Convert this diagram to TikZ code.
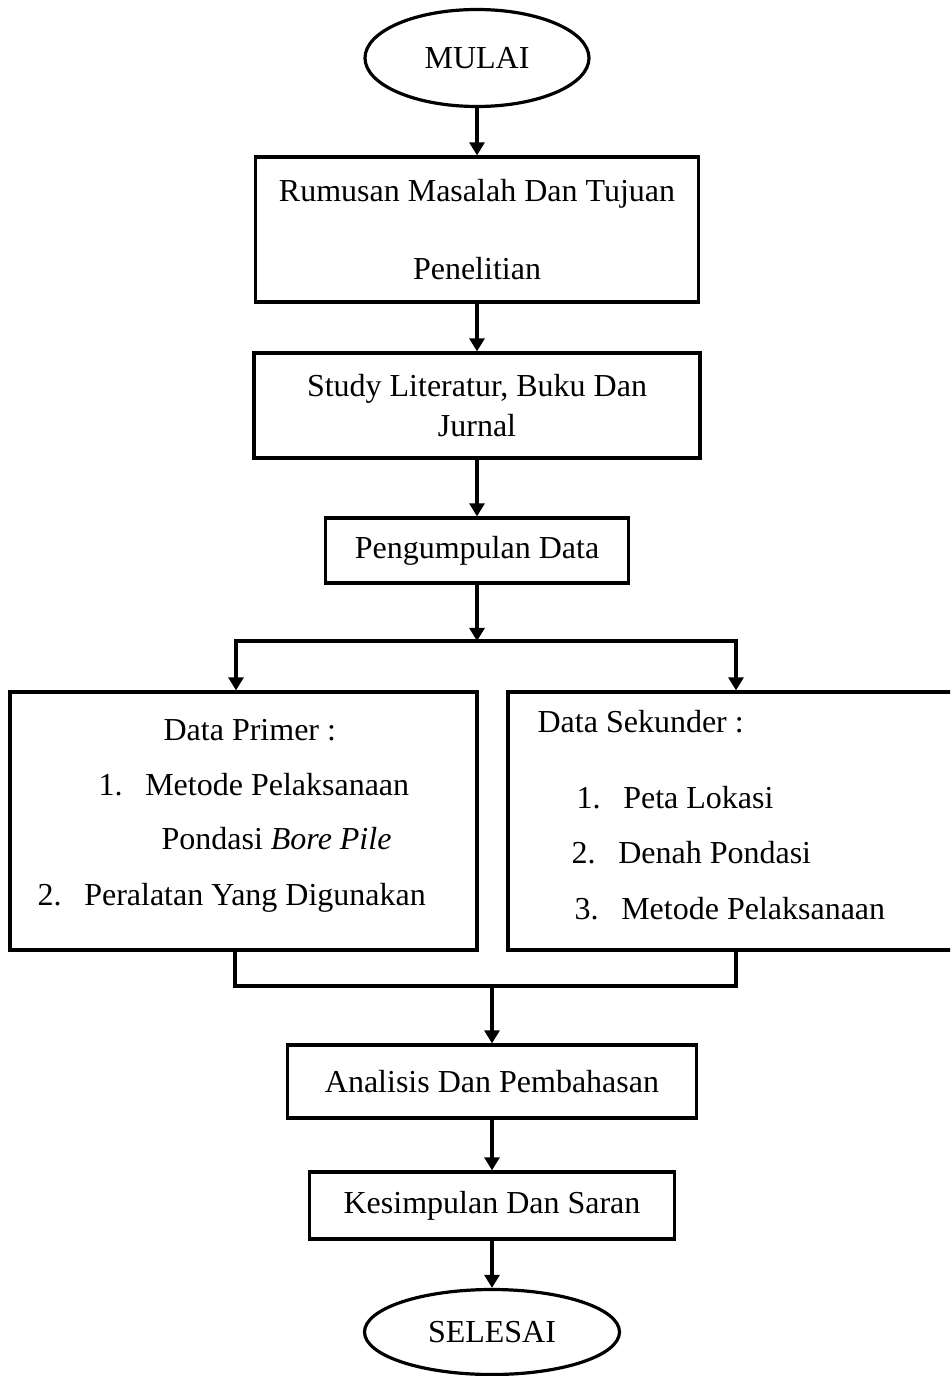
\documentclass[tikz,border=0pt]{standalone}
\usepackage{fontspec}
\setmainfont{Liberation Serif}
\usetikzlibrary{arrows.meta,shapes.geometric}

\begin{document}
\begin{tikzpicture}[line width=1.2pt, font=\fontsize{12}{15}\selectfont,
  box/.style={draw, rectangle, inner sep=0pt, align=center},
  terminal/.style={draw, ellipse, inner sep=0pt},
  arrow/.style={-{Triangle[length=4.9pt,width=5.6pt]}},
  txt/.style={anchor=base west, inner sep=0pt}]

\newcommand\X{0.375pt}
\newcommand\Y{-0.375pt}
\newcommand\NUM[1]{\makebox[17.5pt][l]{#1}}

\path[use as bounding box, clip] (0*\X, 0*\Y) rectangle (950*\X, 1376*\Y);

%% upper column

\node[terminal, minimum width=224*\X, minimum height=97*\X] (mulai) at (477*\X, 58*\Y) {MULAI};

\node[box, minimum width=443*\X, minimum height=145*\X] (rumusan) at (477*\X, 229.5*\Y)
  {Rumusan Masalah Dan Tujuan\\[14pt]Penelitian};

\node[box, minimum width=446*\X, minimum height=105*\X] (study) at (477*\X, 405.5*\Y)
  {Study Literatur, Buku Dan\\Jurnal};

\node[box, minimum width=303*\X, minimum height=65*\X] (kumpul) at (477*\X, 550.5*\Y) {Pengumpulan Data};

\draw[arrow] (mulai) -- (rumusan);
\draw[arrow] (rumusan) -- (study);
\draw[arrow] (study) -- (kumpul);

%% data boxes

\node[box, minimum width=467*\X, minimum height=258*\X] (primer) at (243.5*\X, 821*\Y) {};
\node[box, minimum width=456*\X, minimum height=258*\X] (sekunder) at (736*\X, 821*\Y) {};

\node[txt] (primerHead) at (162*\X, 740*\Y) {Data Primer :};
\node[txt] (primerA) at (97*\X, 795*\Y) {\NUM{1.}Metode Pelaksanaan};
\node[txt] (primerA2) at (160*\X, 849*\Y) {Pondasi \textit{Bore Pile}};
\node[txt] (primerB) at (36*\X, 905*\Y) {\NUM{2.}Peralatan Yang Digunakan};

\node[txt] (sekunderHead) at (536*\X, 732*\Y) {Data Sekunder :};
\node[txt] (sekunderA) at (575*\X, 808*\Y) {\NUM{1.}Peta Lokasi};
\node[txt] (sekunderB) at (570*\X, 863*\Y) {\NUM{2.}Denah Pondasi};
\node[txt] (sekunderC) at (573*\X, 919*\Y) {\NUM{3.}Metode Pelaksanaan};

%% fork and join

\coordinate (fork) at (477*\X, 641*\Y);
\coordinate (forkL) at (236*\X, 641*\Y);
\coordinate (forkR) at (736*\X, 641*\Y);

\draw[arrow] (kumpul) -- (fork);
\draw[arrow] (fork) -- (forkL) -- (forkL |- primer.north);
\draw[arrow] (fork) -- (forkR) -- (forkR |- sekunder.north);

\coordinate (joinL) at (235*\X, 986*\Y);
\coordinate (joinR) at (736*\X, 986*\Y);
\coordinate (join) at (492*\X, 986*\Y);

\draw (joinL |- primer.south) -- (joinL) -- (joinR) -- (joinR |- sekunder.south);

%% lower column

\node[box, minimum width=409*\X, minimum height=73*\X] (analisis) at (492*\X, 1081.5*\Y) {Analisis Dan Pembahasan};

\node[box, minimum width=365*\X, minimum height=67*\X] (simpulan) at (492*\X, 1205.5*\Y) {Kesimpulan Dan Saran};

\node[terminal, minimum width=255*\X, minimum height=85*\X] (selesai) at (492*\X, 1332*\Y) {SELESAI};

\draw[arrow] (join) -- (analisis);
\draw[arrow] (analisis) -- (simpulan);
\draw[arrow] (simpulan) -- (selesai);

\end{tikzpicture}
\end{document}
